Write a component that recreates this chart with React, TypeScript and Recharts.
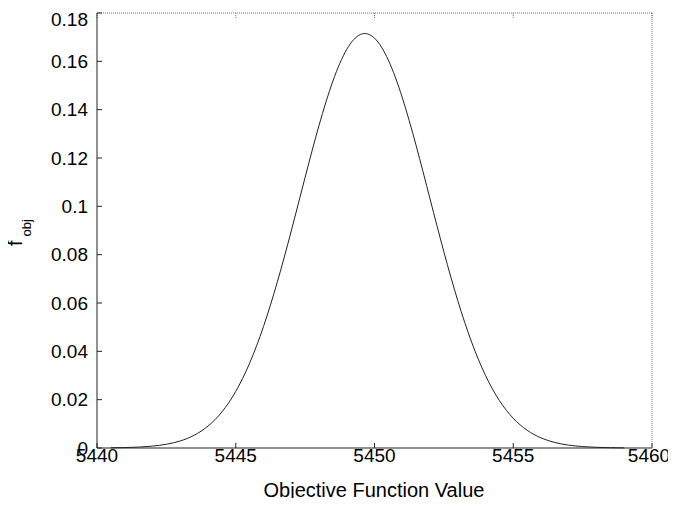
import { LineChart, Line, XAxis, YAxis } from 'recharts'

// objective function value vs density
const objValues = [
  5440.5, 5441, 5441.5, 5442, 5442.5, 5443, 5443.5, 5444, 5444.5, 5445,
  5445.5, 5446, 5446.5, 5447, 5447.5, 5448, 5448.5, 5449, 5449.5, 5450,
  5450.5, 5451, 5451.5, 5452, 5452.5, 5453, 5453.5, 5454, 5454.5, 5455,
  5455.5, 5456, 5456.5, 5457, 5457.5, 5458, 5458.5, 5459,
]

const fObj = [
  0.0001, 0.00017, 0.00038, 0.00078, 0.00155, 0.00292, 0.00527, 0.00907, 0.01491, 0.02343,
  0.03512, 0.05028, 0.06877, 0.08981, 0.11204, 0.13346, 0.15183, 0.16495, 0.17114, 0.16958,
  0.16046, 0.145, 0.12514, 0.10312, 0.08117, 0.061, 0.0438, 0.03001, 0.01965, 0.01229,
  0.00734, 0.00418, 0.00228, 0.00118, 0.00059, 0.00028, 0.00013, 0.00005,
]

const xTicks = [5440, 5445, 5450, 5455, 5460]
const yTicks = [0, 0.02, 0.04, 0.06, 0.08, 0.1, 0.12, 0.14, 0.16, 0.18]

const data = objValues.map((x, i) => ({ x, f: fObj[i] }))

const font = 'Liberation Sans, Arial, Helvetica, sans-serif'
const tickStyle = { fontSize: 19, fill: '#000', fontFamily: font }

export default function App() {
  return (
    <div style={{ width: 660, height: 490 }}>
      {/* let labels near the edge spill past the svg box */}
      <style>{'.recharts-surface { overflow: visible; }'}</style>
      <LineChart
        width={660}
        height={490}
        data={data}
        margin={{ top: 4, right: 15, bottom: 0, left: 0 }}
      >
        <XAxis
          dataKey="x"
          type="number"
          domain={[5440, 5460]}
          ticks={xTicks}
          height={50}
          tickSize={-5}
          tickMargin={6}
          tick={tickStyle}
          stroke="#222"
          label={() => (
            <text
              x={366}
              y={489}
              textAnchor="middle"
              fontFamily={font}
              fontSize={20}
              fill="#000"
            >
              Objective Function Value
            </text>
          )}
        />
        <XAxis
          xAxisId="top"
          dataKey="x"
          type="number"
          orientation="top"
          domain={[5440, 5460]}
          ticks={xTicks}
          height={1}
          tickSize={-5}
          tickFormatter={() => ''}
          stroke="#777"
          strokeDasharray="1 1"
        />
        <YAxis
          type="number"
          domain={[0, 0.18]}
          ticks={yTicks}
          width={89}
          tickSize={-5}
          tickMargin={14}
          tick={tickStyle}
          tickFormatter={(v: number) => String(v)}
          stroke="#222"
          label={() => (
            <text
              x={14}
              y={238}
              transform="rotate(-90, 14, 238)"
              fontFamily={font}
              fontSize={20}
              fill="#000"
            >
              f
              <tspan fontSize={13} dy={9} dx={4}>obj</tspan>
            </text>
          )}
        />
        <YAxis
          yAxisId="right"
          type="number"
          orientation="right"
          domain={[0, 0.18]}
          ticks={yTicks}
          width={1}
          tickSize={-5}
          tickFormatter={() => ''}
          stroke="#777"
          strokeDasharray="1 1"
        />
        <Line
          dataKey="f"
          type="natural"
          stroke="#222"
          strokeWidth={1}
          dot={false}
          isAnimationActive={false}
        />
      </LineChart>
    </div>
  )
}
